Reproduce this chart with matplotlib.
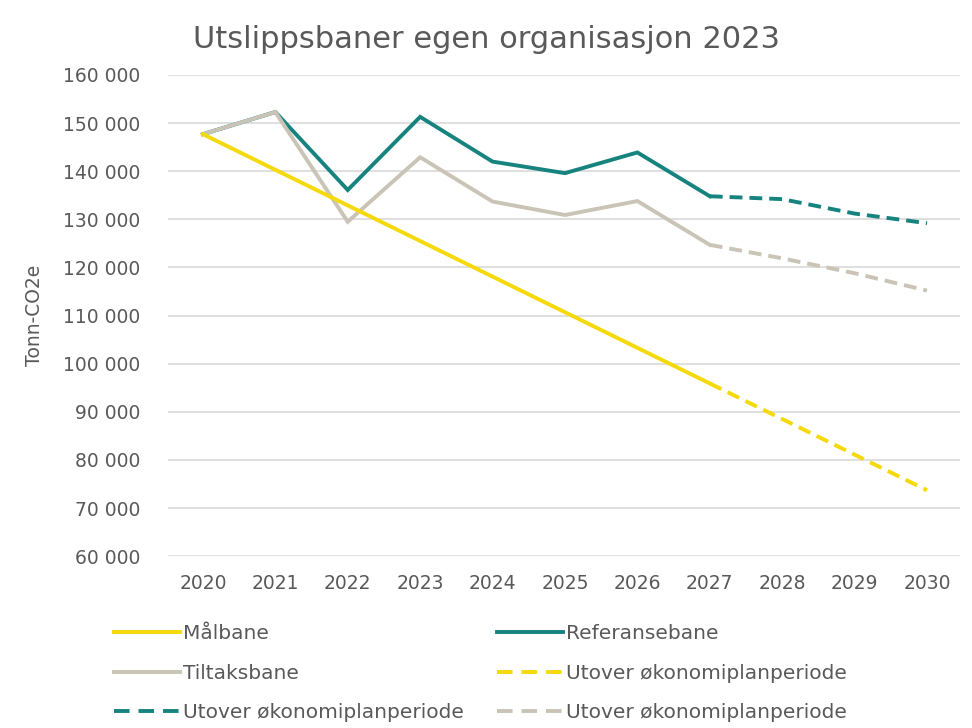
import matplotlib
matplotlib.use('Agg')
import matplotlib.pyplot as plt
from matplotlib.ticker import FuncFormatter
from matplotlib.lines import Line2D

years = [2020, 2021, 2022, 2023, 2024, 2025, 2026, 2027, 2028, 2029, 2030]
malbane = [147700, 140300, 132900, 125500, 118100, 110700, 103300, 95900, 88500, 81100, 73700]
referanse = [147700, 152300, 136100, 151300, 142000, 139600, 143900, 134800, 134200, 131200, 129200]
tiltak = [147700, 152300, 129500, 142900, 133700, 130900, 133800, 124700, 121900, 118800, 115200]
split_year = 2027

YELLOW = '#F5D90A'
TEAL = '#17837E'
BEIGE = '#C9C4B6'
TEXT = '#595959'

plt.rcParams['font.family'] = ['DejaVu Sans']

fig = plt.figure(figsize=(9.72, 7.28), dpi=100)
ax = fig.add_axes([0.173, 0.236, 0.815, 0.661])

k = years.index(split_year) + 1
lw = 2.8
dash = (3.3, 1.8)

# solid part up to 2027, dashed beyond (teal under beige under yellow)
ax.plot(years[:k], referanse[:k], color=TEAL, lw=lw, solid_joinstyle='miter')
ax.plot(years[:k], tiltak[:k], color=BEIGE, lw=lw, solid_joinstyle='miter')
ax.plot(years[:k], malbane[:k], color=YELLOW, lw=lw)
ax.plot(years[k-1:], referanse[k-1:], color=TEAL, lw=lw, dashes=dash)
ax.plot(years[k-1:], tiltak[k-1:], color=BEIGE, lw=lw, dashes=dash)
ax.plot(years[k-1:], malbane[k-1:], color=YELLOW, lw=lw, dashes=dash)

ax.set_xlim(years[0] - 0.48, years[-1] + 0.46)
ax.set_ylim(60000, 160000)
ax.set_yticks(range(60000, 160001, 10000))
ax.yaxis.set_major_formatter(FuncFormatter(lambda v, p: f"{int(v):,}".replace(",", " ")))
ax.set_xticks(years)
ax.set_xticklabels([str(y) for y in years])
ax.grid(axis='y', color='#D9D9D9', lw=1.2)
ax.set_axisbelow(True)
for s in ax.spines.values():
    s.set_visible(False)
ax.tick_params(length=0, labelsize=13.5, colors=TEXT)
ax.tick_params(axis='y', pad=20)
ax.tick_params(axis='x', pad=13)
ax.set_ylabel('Tonn-CO2e', fontsize=13.5, color=TEXT, labelpad=14)

fig.text(0.5, 0.946, 'Utslippsbaner egen organisasjon 2023', ha='center', va='center',
         fontsize=22, color=TEXT)

# legend, reordered so it reads row by row
ldash = (4, 2.3)
h = {
    'm': Line2D([], [], color=YELLOW, lw=lw),
    'r': Line2D([], [], color=TEAL, lw=lw),
    't': Line2D([], [], color=BEIGE, lw=lw),
    'uy': Line2D([], [], color=YELLOW, lw=lw, dashes=ldash),
    'ut': Line2D([], [], color=TEAL, lw=lw, dashes=ldash),
    'ug': Line2D([], [], color=BEIGE, lw=lw, dashes=ldash),
}
labels = {
    'm': 'Målbane', 'r': 'Referansebane', 't': 'Tiltaksbane',
    'uy': 'Utover økonomiplanperiode', 'ut': 'Utover økonomiplanperiode',
    'ug': 'Utover økonomiplanperiode',
}
order = ['m', 't', 'ut', 'r', 'uy', 'ug']
leg = fig.legend([h[o] for o in order], [labels[o] for o in order], ncol=2,
                 loc='upper left', bbox_to_anchor=(0.109, 0.154), frameon=False,
                 fontsize=14.5, handlelength=3.3, handletextpad=0.15,
                 columnspacing=1.6, labelspacing=1.03, borderaxespad=0)
for t in leg.get_texts():
    t.set_color(TEXT)

fig.savefig('out.png', dpi=100)
